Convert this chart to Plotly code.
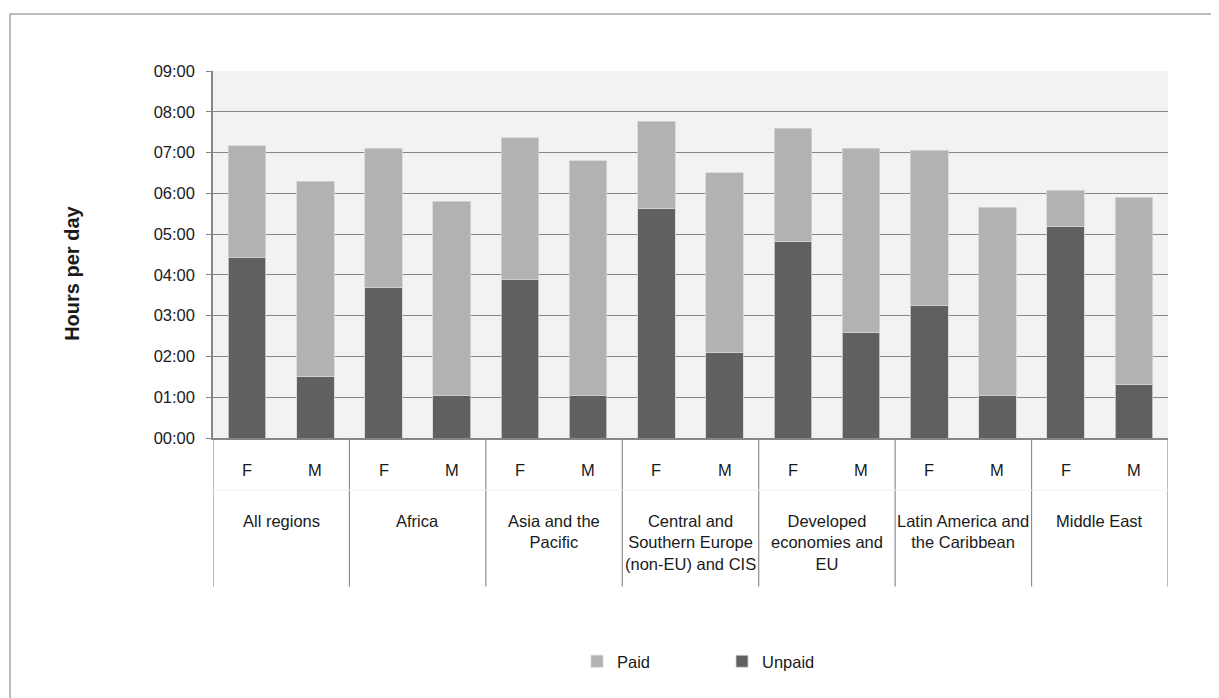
import plotly.graph_objects as go

# ---- data (hours per day) ----
regions = [
    "All regions",
    "Africa",
    "Asia and the<br>Pacific",
    "Central and<br>Southern Europe<br>(non-EU) and CIS",
    "Developed<br>economies and<br>EU",
    "Latin America and<br>the Caribbean",
    "Middle East",
]
sexes = ["F", "M"]
unpaid_hours = [4.42, 1.51, 3.68, 1.04, 3.88, 1.04, 5.63, 2.09,
                4.82, 2.58, 3.24, 1.04, 5.19, 1.31]
paid_hours = [2.75, 4.79, 3.42, 4.76, 3.48, 5.76, 2.14, 4.41,
              2.78, 4.52, 3.82, 4.62, 0.88, 4.59]
y_tick_vals = [0, 1, 2, 3, 4, 5, 6, 7, 8, 9]
y_tick_text = ["00:00", "01:00", "02:00", "03:00", "04:00",
               "05:00", "06:00", "07:00", "08:00", "09:00"]

FONT = "Liberation Sans, Arial, sans-serif"
TXT = "#1a1a1a"
GRID = "#868686"

n_sex = len(sexes)
xs = [i * n_sex + j for i in range(len(regions)) for j in range(n_sex)]

fig = go.Figure()
fig.add_trace(go.Bar(
    x=xs, y=unpaid_hours, name="Unpaid", width=0.55,
    marker=dict(color="#606060", line=dict(color="#d4d4d4", width=0.8)),
))
fig.add_trace(go.Bar(
    x=xs, y=paid_hours, name="Paid", width=0.55,
    marker=dict(color="#b2b2b2", line=dict(color="#d4d4d4", width=0.8)),
))

OFF = 8  # page body margin
W, H = 1211, 690
# plot area in screen pixels: x 213..1168, y 71..438.3
ML = 213 - OFF
MT = 71 - OFF
MR = W - (1168 - OFF)
MB = H - (438.3 - OFF)
pw = W - ML - MR
ph = H - MT - MB


def py(pix):  # screen pixel y -> paper y
    return (H - MB - (pix - OFF)) / ph


def px(pix):  # screen pixel x -> paper x
    return ((pix - OFF) - ML) / pw


annotations = []
# inner (sex) labels
for k, xv in enumerate(xs):
    annotations.append(dict(
        x=xv, xref="x", y=py(470), yref="paper", text=sexes[k % n_sex],
        showarrow=False, xanchor="center", yanchor="middle",
        font=dict(family=FONT, size=16.5, color=TXT)))
# outer (region) labels
for i, r in enumerate(regions):
    annotations.append(dict(
        x=i * n_sex + (n_sex - 1) / 2, xref="x", y=py(510), yref="paper",
        text=r, showarrow=False, xanchor="center", yanchor="top",
        align="center", font=dict(family=FONT, size=16.5, color=TXT)))
# y title
annotations.append(dict(
    x=px(72), xref="paper", y=py(274), yref="paper",
    text="<b>Hours per day</b>", textangle=-90, showarrow=False,
    xanchor="center", yanchor="middle",
    font=dict(family=FONT, size=20, color=TXT)))

shapes = []
# group dividers below the axis
for i in range(len(regions) + 1):
    xv = i * n_sex - 0.5
    shapes.append(dict(type="line", xref="x", yref="paper",
                       x0=xv, x1=xv, y0=0, y1=py(587),
                       line=dict(color="#8c8c8c", width=1.2)))
# faint separator between the two label rows
shapes.append(dict(type="line", xref="paper", yref="paper",
                   x0=0, x1=1, y0=py(490.5), y1=py(490.5),
                   line=dict(color="#f0f0f0", width=1)))
# outer chart border
shapes.append(dict(type="rect", xref="paper", yref="paper",
                   x0=px(10), x1=px(1260), y0=py(14), y1=py(740),
                   line=dict(color="#a6a6a6", width=1.5),
                   fillcolor="rgba(0,0,0,0)", layer="below"))

fig.update_layout(
    width=W, height=H,
    margin=dict(l=ML, r=MR, t=MT, b=MB),
    paper_bgcolor="white",
    plot_bgcolor="#f2f2f2",
    barmode="stack",
    font=dict(family=FONT, size=16.5, color=TXT),
    showlegend=True,
    legend=dict(orientation="h", x=px(577), xanchor="left",
                y=py(662), yanchor="middle", traceorder="reversed",
                entrywidth=100, entrywidthmode="pixels",
                font=dict(family=FONT, size=16.5, color=TXT),
                bgcolor="rgba(0,0,0,0)"),
    annotations=annotations,
    shapes=shapes,
    xaxis=dict(range=[-0.5, len(xs) - 0.5], showticklabels=False,
               showgrid=False, zeroline=False, showline=True,
               linecolor=GRID, linewidth=1.5, ticks="", fixedrange=True),
    yaxis=dict(range=[0, 9], tickvals=y_tick_vals, ticktext=y_tick_text,
               showgrid=True, gridcolor=GRID, gridwidth=1,
               showline=True, linecolor=GRID, linewidth=1.5,
               ticks="outside", ticklen=5, tickcolor=GRID,
               ticklabelstandoff=8, zeroline=False,
               tickfont=dict(family=FONT, size=16.5, color=TXT)),
)

fig.write_html("out.html")
